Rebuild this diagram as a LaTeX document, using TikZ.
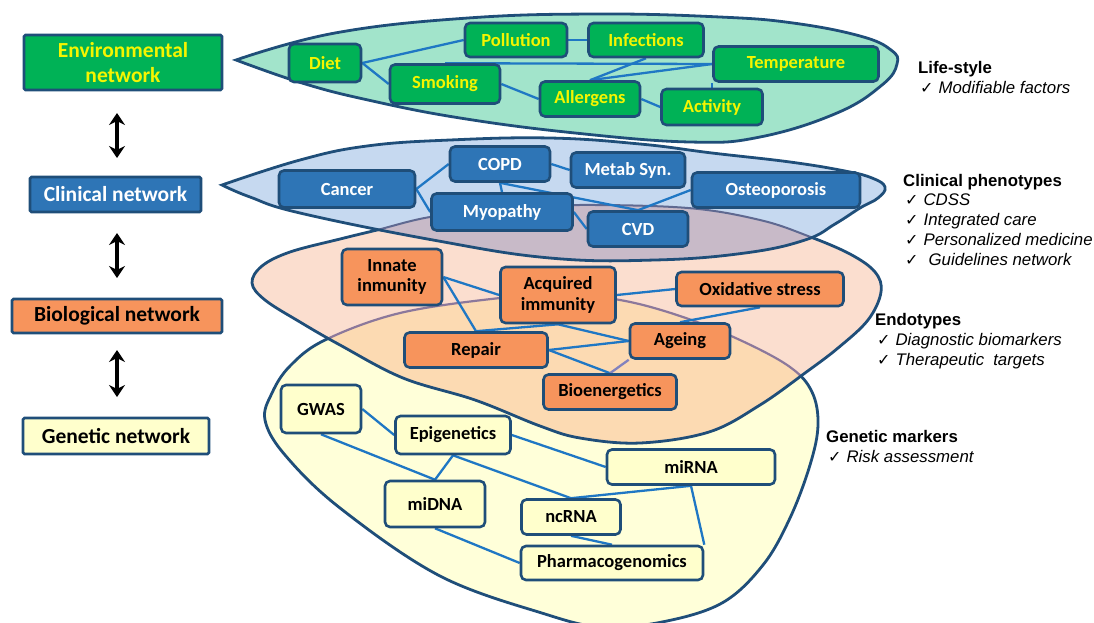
\documentclass[tikz,border=0pt]{standalone}
\usepackage{fontspec}
\setmainfont{Liberation Sans}
\newfontfamily\carl{Carlito}
\newfontfamily\dejavu{DejaVu Sans}
\usetikzlibrary{arrows.meta}
\definecolor{navy}{RGB}{31,78,121}
\definecolor{connc}{RGB}{31,119,196}
\definecolor{gleaf}{RGB}{162,228,203}
\definecolor{bleaf}{RGB}{198,217,240}
\definecolor{oleaf}{RGB}{251,222,207}
\definecolor{yleaf}{RGB}{255,255,217}
\definecolor{oyleaf}{RGB}{252,218,178}
\definecolor{boleaf}{RGB}{200,186,200}
\definecolor{mutedY}{RGB}{140,120,155}
\definecolor{mutedO}{RGB}{95,105,145}
\definecolor{gboxc}{RGB}{0,178,86}
\definecolor{gtxt}{RGB}{245,245,0}
\definecolor{cboxc}{RGB}{46,117,182}
\definecolor{oboxc}{RGB}{247,148,92}
\definecolor{yboxc}{RGB}{255,255,204}
\definecolor{agebio}{RGB}{130,130,190}
\pgfdeclarelayer{bg}
\pgfdeclarelayer{edges}
\pgfsetlayers{bg,edges,main}
\newcommand\gpath{plot[smooth, tension=0.7] coordinates {(236,60) (335,33) (468,18) (600,14) (720,17) (793,23) (860,36) (891,50) (897,64) (882,85) (837,113) (760,137) (690,142) (575,133) (460,118) (368,100) (302,83) (236,60)} -- cycle}
\newcommand\bpath{plot[smooth, tension=0.7] coordinates {(222,185) (300,160) (367,146) (450,140) (550,138) (640,144) (712,153) (790,162) (845,171) (872,178) (885,187) (878,198) (860,208) (835,224) (805,240) (745,253) (655,260) (550,258) (433,240) (300,213) (250,197) (222,185)} -- cycle}
\newcommand\opath{plot[smooth cycle, tension=0.6] coordinates {(252,283) (262,266) (290,252) (340,239) (377,230) (430,217) (500,209) (578,205) (688,208) (760,220) (808,236) (850,254) (875,272) (881,292) (868,320) (838,348) (805,373) (760,405) (709,432) (640,443) (580,438) (540,426) (475,400) (403,378) (340,345) (300,322) (265,300)}}
\newcommand\ypath{plot[smooth cycle, tension=0.6] coordinates {(265,420) (272,393) (290,366) (325,340) (400,313) (500,298) (560,295) (620,300) (680,316) (740,340) (790,367) (812,392) (818,425) (810,465) (790,518) (763,565) (722,603) (662,622) (602,627) (545,614) (440,576) (340,508) (285,455)}}
\newcommand\chk{{\dejavu\fontsize{16}{18}\selectfont ✓}\hspace{5pt}}
\begin{document}
\begin{tikzpicture}[x=1pt,y=-1pt,
  outl/.style={draw=navy, line width=2.8pt},
  netbox/.style={draw=navy, line width=2.6pt, rounded corners=5pt, inner sep=0pt, align=center,
     font=\carl\bfseries\fontsize{18.5}{20.5}\selectfont},
  envnode/.style={netbox, fill=gboxc, text=gtxt},
  clinnode/.style={netbox, fill=cboxc, text=white},
  bionode/.style={netbox, fill=oboxc, text=black},
  gennode/.style={netbox, fill=yboxc, text=black},
  leftbox/.style={draw=navy, line width=2.6pt, rounded corners=1.5pt, inner sep=0pt, align=center,
     font=\carl\bfseries\fontsize{21.5}{25}\selectfont},
  conn/.style={draw=connc, line width=2.3pt},
  dblarrow/.style={line width=3.2pt, {Stealth[length=12pt,width=16pt,inset=4pt]}-{Stealth[length=12pt,width=16pt,inset=4pt]}},
  rhead/.style={anchor=base west, inner sep=0pt, font=\bfseries\fontsize{16.8}{20}\selectfont},
  ritem/.style={anchor=base west, inner sep=0pt, font=\itshape\fontsize{16.8}{20}\selectfont}
]
\useasboundingbox (0,0) rectangle (1094,622);

\begin{pgfonlayer}{bg}
  \fill[yleaf] \ypath;
  \draw[outl] \ypath;
  \fill[oleaf] \opath;
  \begin{scope}
    \clip \opath;
    \fill[oyleaf] \ypath;
    \draw[draw=mutedY, line width=2.2pt] \ypath;
  \end{scope}
  \draw[outl] \opath;
  \fill[bleaf] \bpath;
  \begin{scope}
    \clip \bpath;
    \fill[boleaf] \opath;
    \draw[draw=mutedO, line width=2pt] \opath;
  \end{scope}
  \draw[outl] \bpath;
  \fill[gleaf] \gpath;
  \draw[outl] \gpath;
\end{pgfonlayer}

% left column
\node[leftbox, fill=gboxc, text=gtxt, minimum width=198pt, minimum height=55pt] (envnet) at (123,62.5) {Environmental\\network};
\node[leftbox, fill=cboxc, text=white, minimum width=171pt, minimum height=35pt] (clinnet) at (115.5,194.5) {Clinical network};
\node[leftbox, fill=oboxc, text=black, minimum width=210pt, minimum height=34pt] (bionet) at (117,316) {Biological network};
\node[leftbox, fill=yboxc, text=black, minimum width=186pt, minimum height=36pt] (gennet) at (116,436) {Genetic network};
\coordinate (a1t) at (117,113);
\coordinate (a1b) at (117,158);
\coordinate (a2t) at (117,233);
\coordinate (a2b) at (117,278);
\coordinate (a3t) at (117,350);
\coordinate (a3b) at (117,397);
\draw[dblarrow] (a1t) -- (a1b);
\draw[dblarrow] (a2t) -- (a2b);
\draw[dblarrow] (a3t) -- (a3b);

% environmental layer
\node[envnode, minimum width=72pt, minimum height=38pt] (diet) at (325,63) {Diet};
\node[envnode, minimum width=102pt, minimum height=34pt] (poll) at (516,40) {Pollution};
\node[envnode, minimum width=115pt, minimum height=34pt] (inf) at (646,40) {Infections};
\node[envnode, minimum width=110pt, minimum height=39pt] (smok) at (445,84) {Smoking};
\node[envnode, minimum width=165pt, minimum height=35pt] (temp) at (796,64) {Temperature};
\node[envnode, minimum width=100pt, minimum height=35pt] (all) at (590,99) {Allergens};
\node[envnode, minimum width=101pt, minimum height=36pt] (act) at (712,107) {Activity};

% clinical layer
\node[clinnode, minimum width=136pt, minimum height=37pt] (canc) at (347,189) {Cancer};
\node[clinnode, minimum width=100pt, minimum height=35pt] (copd) at (500,164) {COPD};
\node[clinnode, minimum width=114pt, minimum height=35pt] (metab) at (628,170) {Metab Syn.};
\node[clinnode, minimum width=168pt, minimum height=35pt] (ost) at (776,190) {Osteoporosis};
\node[clinnode, minimum width=141pt, minimum height=37pt] (myo) at (502,212) {Myopathy};
\node[clinnode, minimum width=100pt, minimum height=35pt] (cvd) at (638,229) {CVD};

% biological layer
\node[bionode, minimum width=100pt, minimum height=56pt] (inn) at (392,277) {Innate\\inmunity};
\node[bionode, minimum width=115pt, minimum height=56pt] (acq) at (558,295) {Acquired\\immunity};
\node[bionode, minimum width=167pt, minimum height=34pt] (ox) at (760,289) {Oxidative stress};
\node[bionode, minimum width=143pt, minimum height=35pt] (rep) at (476,350) {Repair};
\node[bionode, minimum width=100pt, minimum height=35pt] (age) at (680,341) {Ageing};
\node[bionode, minimum width=133pt, minimum height=35pt] (bioe) at (610,392) {Bioenergetics};

% genetic layer
\node[gennode, minimum width=80pt, minimum height=48pt] (gwas) at (321,409) {GWAS};
\node[gennode, minimum width=115pt, minimum height=38pt] (epi) at (453,435) {Epigenetics};
\node[gennode, minimum width=168pt, minimum height=35pt] (mirna) at (691,467) {miRNA};
\node[gennode, minimum width=100pt, minimum height=46pt] (midna) at (435,504) {miDNA};
\node[gennode, minimum width=99pt, minimum height=35pt] (ncrna) at (571,517) {ncRNA};
\node[gennode, minimum width=182pt, minimum height=34pt] (pharm) at (612,563) {Pharmacogenomics};

\begin{pgfonlayer}{edges}
  \draw[conn] (diet.east) -- (poll.west);
  \draw[conn] (diet.east) -- (smok.west);
  \draw[conn] (poll.east) -- (inf.west);
  \draw[conn] (smok.north) -- (temp.west);
  \draw[conn] (smok.east) -- (all.west);
  \draw[conn] (inf.south) -- (all.north);
  \draw[conn] (all.north) -- (temp.west);
  \draw[conn] (all.east) -- (act.west);
  \draw[conn] (act.north) -- (act.north |- temp.south);
  \draw[conn] (canc.east) -- (copd.west);
  \draw[conn] (canc.east) -- (myo.west);
  \draw[conn] (copd.south) -- (myo.north);
  \draw[conn] (copd.east) -- (metab.west);
  \draw[conn] (copd.south) -- (cvd.north);
  \draw[conn] (myo.east) -- (cvd.west);
  \draw[conn] (ost.west) -- (cvd.north);
  \draw[conn] (inn.east) -- (acq.west);
  \draw[conn] (inn.east) -- (rep.north);
  \draw[conn] (rep.north) -- (acq.south);
  \draw[conn] (acq.south) -- (age.west);
  \draw[conn] (acq.east) -- (ox.west);
  \draw[conn] (ox.south) -- (age.north);
  \draw[conn] (rep.east) -- (age.west);
  \draw[conn] (rep.east) -- (bioe.north);
  \draw[conn, draw=agebio] (age.south west) -- (bioe.north);
  \draw[conn] (gwas.east) -- (epi.west);
  \draw[conn] (gwas.south) -- (midna.north);
  \draw[conn] (epi.south) -- (midna.north);
  \draw[conn] (epi.south) -- (ncrna.north);
  \draw[conn] (epi.east) -- (mirna.west);
  \draw[conn] (mirna.south) -- (ncrna.north);
  \draw[conn] (mirna.south) -- (pharm.north east);
  \draw[conn] (ncrna.south) -- (pharm.north);
  \draw[conn] (midna.south) -- (pharm.west);
\end{pgfonlayer}

% right side texts
\node[rhead] (lifeh) at (918,73) {Life-style};
\node[ritem] (life1) at (920,93) {\chk Modifiable factors};
\node[rhead] (clinh) at (903,186) {Clinical phenotypes};
\node[ritem] (clin1) at (905,205) {\chk CDSS};
\node[ritem] (clin2) at (905,225) {\chk Integrated care};
\node[ritem] (clin3) at (905,245) {\chk Personalized medicine};
\node[ritem] (clin4) at (905,265) {\chk\hspace{5pt}Guidelines network};
\node[rhead] (endoh) at (875,325) {Endotypes};
\node[ritem] (endo1) at (877,345) {\chk Diagnostic biomarkers};
\node[ritem] (endo2) at (877,365) {\chk Therapeutic\hspace{9pt}targets};
\node[rhead] (genh) at (826,442) {Genetic markers};
\node[ritem] (gen1) at (828,462) {\chk Risk assessment};
\end{tikzpicture}
\end{document}
